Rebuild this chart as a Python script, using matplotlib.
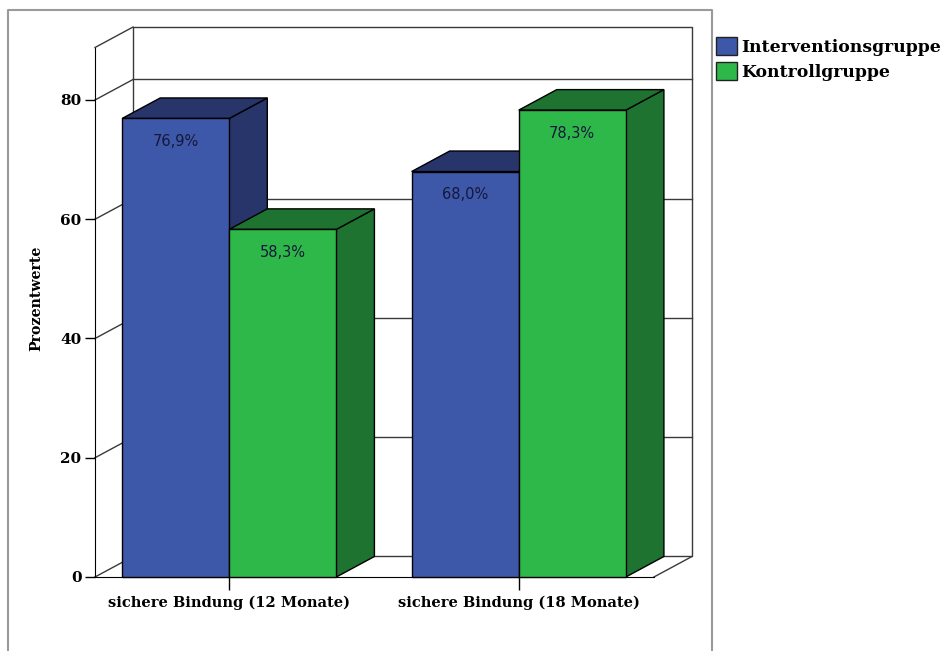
import matplotlib
matplotlib.use("Agg")
import matplotlib.pyplot as plt
from matplotlib.patches import Polygon, Patch
from matplotlib.lines import Line2D

kategorien = ["sichere Bindung (12 Monate)", "sichere Bindung (18 Monate)"]
gruppen = ["Interventionsgruppe", "Kontrollgruppe"]
intervention = [76.9, 68.0]
kontrolle = [58.3, 78.3]
y_ticks = [0, 20, 40, 60, 80]

plt.rcParams["font.family"] = ["DejaVu Serif"]
plt.rcParams["font.weight"] = "bold"

front_col = ["#3d57a9", "#2fb84a"]
dark_col = ["#27356b", "#1e7330"]
wall_col = "#3a3a3a"

# raum: vorderkante x0..x1, Tiefe dx/dy, Oberkante der Vorderwand ytop
x0, x1 = -0.4637, 1.467
dx, dy = 0.1315, 3.44
ytop = 88.8
w = 0.37

fig = plt.figure(figsize=(9.46, 6.51), dpi=100)
W, H = 946, 651
ax = fig.add_axes([95 / W, (H - 577) / H, (692 - 95) / W, (577 - 27) / H])
ax.set_xlim(x0, x1 + dx)
ax.set_ylim(0, ytop + dy)
ax.patch.set_alpha(0)


def line(xs, ys, **kw):
    ax.add_line(Line2D(xs, ys, color=wall_col, lw=1.0, zorder=1, clip_on=False, **kw))


# Rückwand mit Gitterlinien
bx0, bx1 = x0 + dx, x1 + dx
line([bx0, bx0, bx1, bx1, bx0], [dy, ytop + dy, ytop + dy, dy, dy])
for t in y_ticks[1:]:
    line([bx0, bx1], [t + dy, t + dy])
# linke Seitenwand
for t in y_ticks + [ytop]:
    line([x0, bx0], [t, t + dy])
# Boden rechts
line([x1, bx1], [0, dy])


def saeule(xl, h, k, z):
    top = Polygon([(xl, h), (xl + w, h), (xl + w + dx, h + dy), (xl + dx, h + dy)],
                  closed=True, fc=dark_col[k], ec="black", lw=1.0, zorder=z, clip_on=False)
    side = Polygon([(xl + w, 0), (xl + w + dx, dy), (xl + w + dx, h + dy), (xl + w, h)],
                   closed=True, fc=dark_col[k], ec="black", lw=1.0, zorder=z, clip_on=False)
    ax.add_patch(side)
    ax.add_patch(top)
    ax.bar(xl, h, w, align="edge", color=front_col[k], edgecolor="black",
           lw=1.0, zorder=z + 0.5, clip_on=False)
    ax.annotate(f"{h:.1f}%".replace(".", ","), (xl + w / 2, h), xytext=(0, -23),
                textcoords="offset pixels", ha="center", va="center",
                fontsize=10.5, fontweight="normal", family="DejaVu Sans",
                color="#15183a", zorder=z + 1)


z = 3
for i in range(len(kategorien)):
    for k, werte in enumerate([intervention, kontrolle]):
        xl = i - w + k * w
        saeule(xl, werte[i], k, z)
        z += 2

for s in ["top", "right"]:
    ax.spines[s].set_visible(False)
ax.spines["left"].set_bounds(0, ytop)
ax.spines["bottom"].set_bounds(x0, x1)
ax.spines["left"].set_color("black")
ax.spines["bottom"].set_color("black")
ax.spines["left"].set_zorder(2)

ax.set_yticks(y_ticks)
ax.set_xticks(range(len(kategorien)))
ax.set_xticklabels(kategorien)
ax.tick_params(axis="y", length=7.2, width=1.0, pad=2.5, labelsize=11)
ax.tick_params(axis="x", length=9.5, width=1.0, pad=4, labelsize=10.5)
for lab in ax.get_xticklabels() + ax.get_yticklabels():
    lab.set_fontweight("bold")

ax.set_ylabel("Prozentwerte", fontsize=10.2, fontweight="bold")
ax.yaxis.set_label_coords((43 - 95) / 597, (577 - 298) / 550)

handles = [Patch(facecolor=front_col[k], edgecolor="#222222", lw=1.0) for k in range(2)]
fig.legend(handles=handles, labels=gruppen, loc="upper left",
           bbox_to_anchor=(716 / W, 1 - 37 / H), frameon=False,
           prop={"size": 12.4, "weight": "bold"}, handlelength=1.2, handleheight=1.2,
           handletextpad=0.25, labelspacing=0.38, borderpad=0, borderaxespad=0)

# äußerer Rahmen
fig.add_artist(Line2D([8 / W, 8 / W, 712 / W, 712 / W], [0, 1 - 10 / H, 1 - 10 / H, 0],
                      transform=fig.transFigure, color="#9a9a9a", lw=1.5))

fig.savefig("out.png", dpi=100)
